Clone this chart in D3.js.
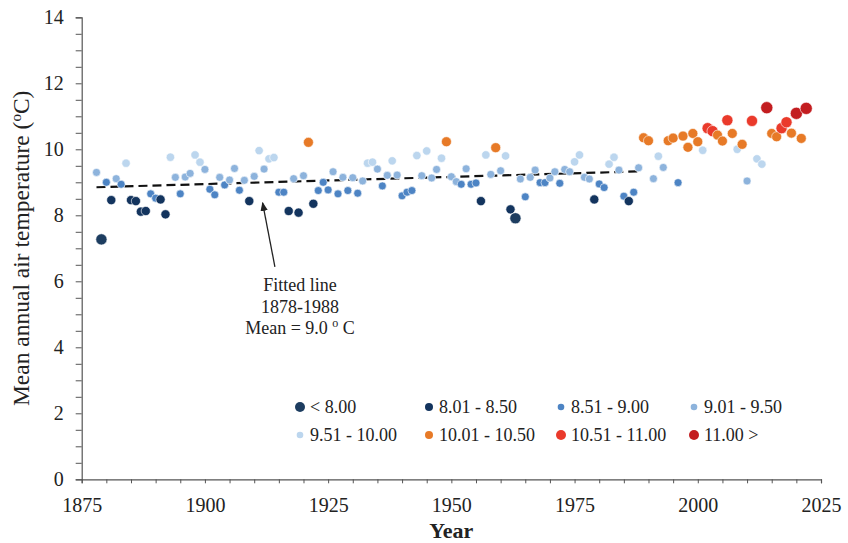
<!DOCTYPE html>
<html>
<head>
<meta charset="utf-8">
<script src="https://cdn.jsdelivr.net/npm/d3@7"></script>
<style>
  body { margin: 0; background: #fff; }
  svg text { font-family: "Liberation Serif", "Times New Roman", serif; fill: #222; }
</style>
</head>
<body>
<div id="chart"></div>
<script>
// annual mean temperature, one value per year starting 1878
const firstYear = 1878;
const temps = [
  9.30, 7.27, 9.00, 8.46, 9.11, 8.94, 9.58, 8.46, 8.43, 8.11, // 1878-1887
  8.13, 8.65, 8.52, 8.48, 8.03, 9.76, 9.15, 8.65, 9.16, 9.27, // 1888-1897
  9.83, 9.61, 9.39, 8.79, 8.62, 9.15, 8.92, 9.07, 9.42, 8.76, // 1898-1907
  9.06, 8.43, 9.18, 9.96, 9.40, 9.71, 9.75, 8.70, 8.70, 8.13, // 1908-1917
  9.11, 8.08, 9.20, 10.21, 8.35, 8.75, 9.00, 8.77, 9.32, 8.65, // 1918-1927
  9.15, 8.75, 9.14, 8.67, 9.04, 9.58, 9.61, 9.40, 8.89, 9.21, // 1928-1937
  9.65, 9.22, 8.59, 8.70, 8.75, 9.81, 9.20, 9.95, 9.13, 9.39, // 1938-1947
  9.73, 10.23, 9.17, 9.02, 8.94, 9.41, 8.94, 8.98, 8.43, 9.83, // 1948-1957
  9.24, 10.05, 9.35, 9.80, 8.18, 7.91, 9.10, 8.56, 9.15, 9.37, // 1958-1967
  8.99, 8.99, 9.13, 9.32, 8.97, 9.39, 9.32, 9.62, 9.83, 9.15, // 1968-1977
  9.10, 8.48, 8.95, 8.84, 9.55, 9.76, 9.37, 8.58, 8.43, 8.70, // 1978-1987
  9.44, 10.35, 10.26, 9.11, 9.79, 9.45, 10.26, 10.34, 8.99, 10.40, // 1988-1997
  10.06, 10.48, 10.23, 9.97, 10.64, 10.55, 10.43, 10.25, 10.88, 10.48, // 1998-2007
  10.00, 10.15, 9.04, 10.86, 9.71, 9.55, 11.26, 10.48, 10.38, 10.64, // 2008-2017
  10.82, 10.49, 11.09, 10.33, 11.24 // 2018-2022
];

// fitted line 1878-1988
const fitYears = [1878, 1988];
const fitTemps = [8.85, 9.33];

// classes
const classLabels = ["< 8.00", "8.01 - 8.50", "8.51 - 9.00", "9.01 - 9.50",
  "9.51 - 10.00", "10.01 - 10.50", "10.51 - 11.00", "11.00 >"];
const classBreaks = [8.005, 8.505, 9.005, 9.505, 10.005, 10.505, 11.005];
const classColors = ["#1d3d60", "#13345e", "#4d84c4", "#8db3dc", "#bcd6ee",
  "#e77a27", "#ea3a2b", "#c31d20"];
const classRadius = [5.6, 4.6, 4, 4, 4.2, 5, 5.6, 6.1];
const legendRadius = [5, 4, 3.3, 3.3, 3.3, 4, 5, 5];

const xTicks = d3.range(1875, 2026, 5);
const yTicks = d3.range(0, 14.01, 0.5);

const width = 848, height = 543;
const margin = { top: 17.3, right: 27, bottom: 63.7, left: 81.7 };

const svg = d3.select('#chart').append('svg')
  .attr('width', width)
  .attr('height', height);

const x = d3.scaleLinear().domain([1875, 2025]).range([margin.left, width - margin.right]);
const y = d3.scaleLinear().domain([0, 14]).range([height - margin.bottom, margin.top]);
const cls = d3.scaleThreshold().domain(classBreaks).range(d3.range(8));

const data = temps.map((t, i) => ({ year: firstYear + i, t: t }));

// axes
const xAxis = svg.append('g')
  .attr('transform', `translate(0,${y(0)})`)
  .call(d3.axisBottom(x).tickValues(xTicks).tickSize(4).tickPadding(15)
    .tickFormat(d => d % 25 === 0 ? d : ''));
const yAxis = svg.append('g')
  .attr('transform', `translate(${x(1875)},0)`)
  .call(d3.axisLeft(y).tickValues(yTicks).tickSize(6).tickPadding(12)
    .tickFormat(d => d % 2 === 0 ? d : ''));
[xAxis, yAxis].forEach(g => {
  g.select('.domain').attr('stroke', '#555').attr('stroke-width', 1.2);
  g.selectAll('.tick line').attr('stroke', '#555').attr('stroke-width', 1);
  g.selectAll('.tick text').style('font-size', '20px').attr('fill', '#222')
    .style('font-family', '"Liberation Serif", serif');
});

// fitted line
svg.append('line')
  .attr('x1', x(fitYears[0])).attr('y1', y(fitTemps[0]))
  .attr('x2', x(fitYears[1])).attr('y2', y(fitTemps[1]))
  .attr('stroke', '#111')
  .attr('stroke-width', 2.2)
  .attr('stroke-dasharray', '9,5');

// points
svg.append('g').selectAll('circle')
  .data(data)
  .enter()
  .append('circle')
  .attr('cx', d => x(d.year))
  .attr('cy', d => y(d.t))
  .attr('r', d => classRadius[cls(d.t)])
  .attr('fill', d => classColors[cls(d.t)])
  .attr('stroke', '#fff')
  .attr('stroke-width', 0.6);

// annotation
svg.append('defs').append('marker')
  .attr('id', 'arrow')
  .attr('viewBox', '0 0 10 10')
  .attr('refX', 9).attr('refY', 5)
  .attr('markerWidth', 7).attr('markerHeight', 7)
  .attr('orient', 'auto-start-reverse')
  .append('path')
  .attr('d', 'M0,1 L10,5 L0,9 Z')
  .attr('fill', '#222');

svg.append('line')
  .attr('x1', x(1914.2)).attr('y1', y(6.44))
  .attr('x2', x(1911.7)).attr('y2', y(8.38))
  .attr('stroke', '#222')
  .attr('stroke-width', 1.3)
  .attr('marker-end', 'url(#arrow)');

const note = svg.append('text')
  .attr('text-anchor', 'middle')
  .style('font-size', '18px');
note.append('tspan').attr('x', x(1919.3)).attr('y', 291).text('Fitted line');
note.append('tspan').attr('x', x(1919.3)).attr('y', 312.5).text('1878-1988');
note.append('tspan').attr('x', x(1919.3)).attr('y', 334).text('Mean = 9.0 ');
note.append('tspan').attr('dy', -7).style('font-size', '12px').text('o');
note.append('tspan').attr('dy', 7).text(' C');

// legend
const legCols = [300, 429, 561, 694];
const legRows = [407, 435];
const legend = svg.append('g');
classLabels.forEach((lab, i) => {
  const lx = legCols[i % 4], ly = legRows[Math.floor(i / 4)];
  legend.append('circle')
    .attr('cx', lx).attr('cy', ly)
    .attr('r', legendRadius[i])
    .attr('fill', classColors[i]);
  legend.append('text')
    .attr('x', lx + 10).attr('y', ly)
    .attr('dy', '0.35em')
    .style('font-size', '18px')
    .text(lab);
});

// axis titles
svg.append('text')
  .attr('x', (x(1875) + x(2025)) / 2)
  .attr('y', 538)
  .attr('text-anchor', 'middle')
  .style('font-size', '22px')
  .style('font-weight', 'bold')
  .text('Year');

const yt = svg.append('text')
  .attr('transform', `translate(29,${(y(0) + y(14)) / 2}) rotate(-90)`)
  .attr('text-anchor', 'middle')
  .style('font-size', '23.5px');
yt.append('tspan').text('Mean annual air temperature (');
yt.append('tspan').attr('dy', -8).style('font-size', '15px').text('o');
yt.append('tspan').attr('dy', 8).text('C)');
</script>
</body>
</html>
